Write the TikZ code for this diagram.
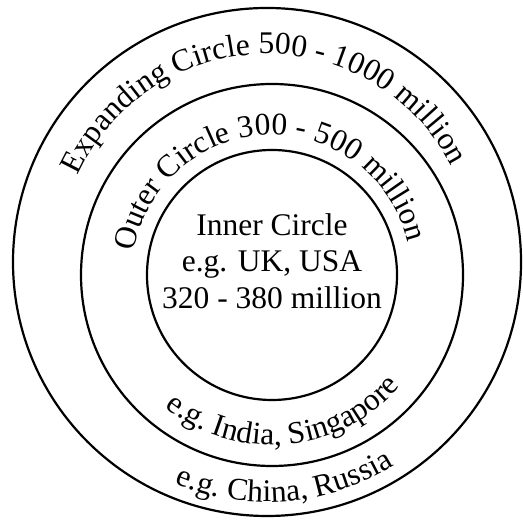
\documentclass[tikz,border=0pt]{standalone}
\usepackage{fontspec}
\setmainfont{Liberation Serif}
\usetikzlibrary{decorations.text}
\newcommand{\ringfont}{\fontsize{15.75pt}{18.25pt}\selectfont}

\begin{document}
\begin{tikzpicture}[
    x=0.5pt, y=0.5pt,
    ring/.style={circle, draw, line width=1.1pt, inner sep=0pt, outer sep=0pt},
    arctext/.style={decorate, decoration={text along path, text align=center, text={|\ringfont|#1}}}
]
    \useasboundingbox (0,0) rectangle (522,522);

    % The three circles
    \node[ring, minimum size=254pt] (expanding) at (267,260) {};
    \node[ring, minimum size=191pt] (outer) at (272,247) {};
    \node[ring, minimum size=125pt] (inner) at (272,247) {};

    % Inner circle
    \node[align=center, font=\ringfont] (innerlabel) at (272,261) {Inner Circle\\e.g. UK, USA\\320 - 380 million};

    % Curved labels
    \path[arctext={Expanding Circle 500 - 1000 million}]
        ([shift={(165:208)}]expanding.center) arc[start angle=165, end angle=18, radius=208];
    \path[arctext={Outer Circle 300 - 500 million}]
        ([shift={(180:140)}]outer.center) arc[start angle=180, end angle=4, radius=140];
    \path[arctext={e.g. India, Singapore}]
        ([shift={(-150:170)}]outer.center) arc[start angle=-150, end angle=-20, radius=170];
    \path[arctext={e.g. China, Russia}]
        ([shift={(-130:240)}]expanding.center) arc[start angle=-130, end angle=-40.6, radius=240];

\end{tikzpicture}
\end{document}
